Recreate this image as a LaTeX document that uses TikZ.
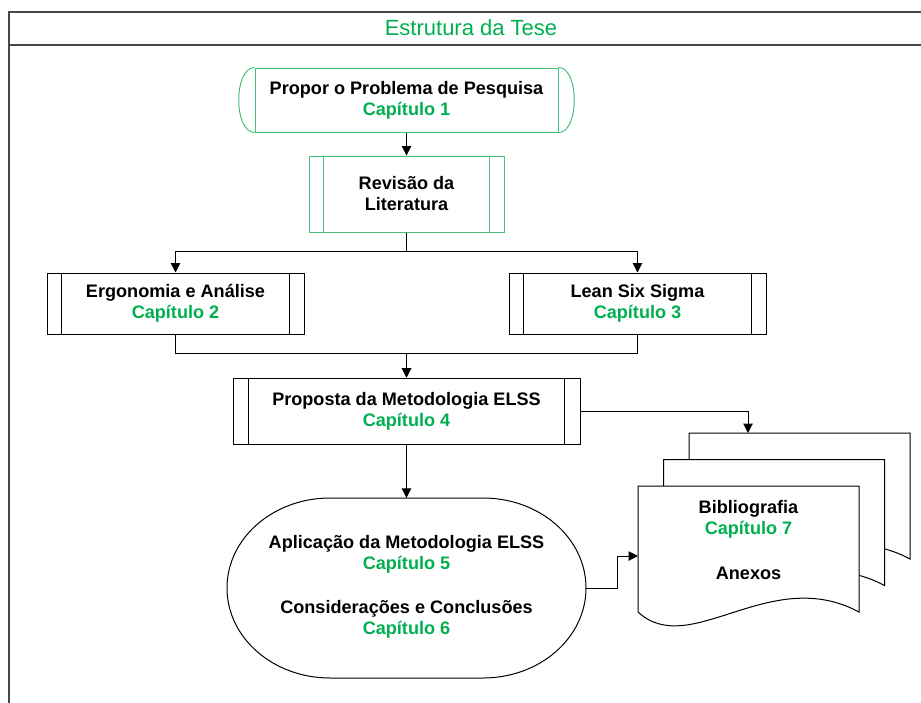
\documentclass[tikz,border=0pt]{standalone}
\usepackage{fontspec}
\setmainfont{Liberation Sans}
\usetikzlibrary{arrows.meta,calc}
\definecolor{capgreen}{RGB}{0,176,80}
\definecolor{edgegreen}{RGB}{70,195,120}
\newcommand{\capline}[1]{\textcolor{capgreen}{#1}}
% vertical bars inside a "predefined process" box
\newcommand{\sidebars}[3]{%
  \draw[line width=1pt,#3] ($(#1.north west)+(#2,0)$) -- ($(#1.south west)+(#2,0)$)
                           ($(#1.north east)+(-#2,0)$) -- ($(#1.south east)+(-#2,0)$);}
% one sheet of the document stack
\newcommand{\docsheet}{%
  \draw[line width=1pt,fill=white] (638,486) -- (859,486) -- (859,612)
    .. controls (770,564) and (690,660) .. (638,612) -- cycle;}
\begin{document}
\begin{tikzpicture}[x=1pt,y=-1pt,
  lbl/.style={font=\fontsize{18.1}{21}\selectfont\bfseries,align=center},
  box/.style={lbl,draw=black,line width=1pt,fill=white,inner sep=0pt},
  greenbox/.style={box,draw=edgegreen},
  arr/.style={line width=1pt,-{Triangle[length=9.5pt,width=9.5pt]}},
  frameline/.style={draw=black!72,line width=2pt}]

\useasboundingbox (0,0) rectangle (921,702);

% outer frame with title bar
\begin{scope}
  \clip (0,0) rectangle (921,702);
  \draw[frameline] (9,720) -- (9,12) -- (940,12);
  \draw[frameline] (9,45) -- (940,45);
\end{scope}
\node[text=capgreen,font=\fontsize{22}{26}\selectfont] (title) at (471,28) {Estrutura da Tese};

% chapter 1
\node[greenbox,minimum width=303pt,minimum height=64pt] (n1) at (406.5,100)
  {Propor o Problema de Pesquisa\\\capline{Capítulo 1}};
\draw[edgegreen,line width=1pt,fill=white] (n1.north west) .. controls +(-21,0) and +(-21,0) .. (n1.south west);
\draw[edgegreen,line width=1pt,fill=white] (n1.north east) .. controls +(21,0) and +(21,0) .. (n1.south east);

% literature review
\node[greenbox,minimum width=195pt,minimum height=76pt] (n2) at (406.5,194)
  {Revisão da\\Literatura};
\sidebars{n2}{15}{edgegreen}

% chapters 2 and 3
\node[box,minimum width=257pt,minimum height=61pt] (n3) at (175.5,303.5)
  {Ergonomia e Análise\\\capline{Capítulo 2}};
\sidebars{n3}{15}{black}
\node[box,minimum width=257pt,minimum height=61pt] (n4) at (637.5,303.5)
  {Lean Six Sigma\\\capline{Capítulo 3}};
\sidebars{n4}{15}{black}

% chapter 4
\node[box,minimum width=347pt,minimum height=66pt] (n5) at (406.5,411)
  {Proposta da Metodologia ELSS\\\capline{Capítulo 4}};
\sidebars{n5}{16}{black}

% chapters 5 and 6 (terminator)
\node[minimum width=359pt,minimum height=180pt,inner sep=0pt] (n6) at (406.5,588) {};
\draw[line width=1pt,fill=white] (330,498)
  .. controls (273.1,498) and (227,538.3) .. (227,588)
  .. controls (227,637.7) and (273.1,678) .. (330,678) -- (483,678)
  .. controls (539.9,678) and (586,637.7) .. (586,588)
  .. controls (586,538.3) and (539.9,498) .. (483,498) -- cycle;
\node[lbl] (n6txt) at (406.5,587)
  {Aplicação da Metodologia ELSS\\\capline{Capítulo 5}\\[23pt]Considerações e Conclusões\\\capline{Capítulo 6}};

% document stack (chapter 7)
\begin{scope}[shift={(51,-53)}]\docsheet\end{scope}
\begin{scope}[shift={(25.5,-26.5)}]\docsheet\end{scope}
\docsheet
\node[lbl] (doc) at (748.5,540) {Bibliografia\\\capline{Capítulo 7}\\[24pt]Anexos};
\coordinate (backtop) at (748,433);
\coordinate (docin) at (638,556);

% connectors
\draw[arr] (n1.south) -- (n2.north);
\draw[arr] (n2.south) -- ++(0,19) -| (n3.north);
\draw[arr] (n2.south) -- ++(0,19) -| (n4.north);
\draw[arr] (n3.south) -- ++(0,19) -| (n5.north);
\draw[arr] (n4.south) -- ++(0,19) -| (n5.north);
\draw[arr] (n5.south) -- (n6.north);
\draw[arr] (n5.east) -| (backtop);
\draw[arr] (n6.east) -- ++(31,0) |- (docin);
\end{tikzpicture}
\end{document}
